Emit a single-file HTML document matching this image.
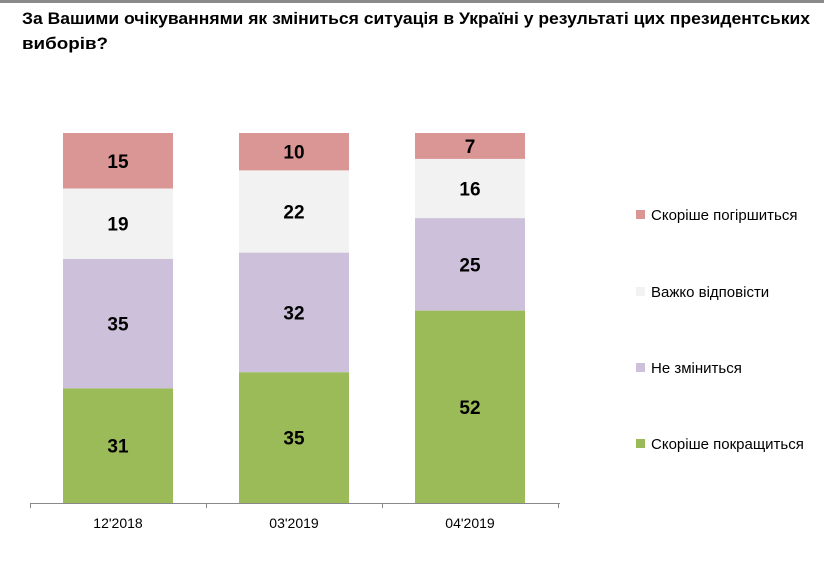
<!DOCTYPE html>
<html><head><meta charset="utf-8"><style>
body{margin:0;background:#fff;}
svg{display:block;font-family:"Liberation Sans",Arial,sans-serif;}
</style></head><body>
<svg id="chart" width="824" height="562" viewBox="0 0 824 562" xmlns="http://www.w3.org/2000/svg">
<rect x="0" y="0" width="824" height="562" fill="#fff"/>
<rect x="0" y="0" width="824" height="3" fill="#8a8a8a"/>
<text x="22" y="24" font-size="17" font-weight="bold" fill="#000" textLength="788" lengthAdjust="spacingAndGlyphs">За Вашими очікуваннями як зміниться ситуація в Україні у результаті цих президентських</text>
<text x="22" y="49" font-size="17" font-weight="bold" fill="#000" textLength="86" lengthAdjust="spacingAndGlyphs">виборів?</text>
<g id="bars"></g>
<line x1="30" y1="503.5" x2="560" y2="503.5" stroke="#888" stroke-width="1"/>
<g id="axis"></g>
<g id="legend"></g>
</svg>
<script>
const categories = ["12'2018","03'2019","04'2019"];
const seriesNames = ["Скоріше покращиться","Не зміниться","Важко відповісти","Скоріше погіршиться"];
const improve = [31,35,52];
const noChange = [35,32,25];
const hardToSay = [19,22,16];
const worsen = [15,10,7];
const colors = ["#9bbb59","#ccc0da","#f2f2f2","#d99694"];
const series = [improve,noChange,hardToSay,worsen];
const NS="http://www.w3.org/2000/svg";
const plotTop=133, plotBottom=503, x0=30, bandW=176, barW=110;
const yScale = v => (plotBottom-plotTop)*v/100;
const xBand = i => x0 + bandW*i + (bandW-barW)/2;
const bars=document.getElementById('bars');
categories.forEach((c,i)=>{
  let total=0; series.forEach(s=>total+=s[i]);
  let y=plotBottom;
  series.forEach((s,k)=>{
    const h=yScale(s[i]/total*100);
    y-=h;
    const r=document.createElementNS(NS,'rect');
    r.setAttribute('x',xBand(i));r.setAttribute('y',y);r.setAttribute('width',barW);r.setAttribute('height',h);r.setAttribute('fill',colors[k]);
    
    
    bars.appendChild(r);
    const t=document.createElementNS(NS,'text');
    t.setAttribute('x',xBand(i)+barW/2);t.setAttribute('y',y+h/2+7);t.setAttribute('text-anchor','middle');
    t.setAttribute('font-size','19');t.setAttribute('font-weight','bold');t.textContent=s[i];
    
    
    bars.appendChild(t);
  });
});
const axis=document.getElementById('axis');
for(let i=0;i<=categories.length;i++){
  const l=document.createElementNS(NS,'line');
  const x=x0+bandW*i+0.5;
  l.setAttribute('x1',x);l.setAttribute('x2',x);l.setAttribute('y1',503);l.setAttribute('y2',508);l.setAttribute('stroke','#888');
  
  
  axis.appendChild(l);
}
categories.forEach((c,i)=>{
  const t=document.createElementNS(NS,'text');
  t.setAttribute('x',x0+bandW*i+bandW/2);t.setAttribute('y',528);t.setAttribute('text-anchor','middle');t.setAttribute('font-size','14');
  t.textContent=c;
  
  
  axis.appendChild(t);
});
const legend=document.getElementById('legend');
const legY=[444,368,292,215];
seriesNames.forEach((n,k)=>{
  const g=document.createElementNS(NS,'g');
  
  
  const r=document.createElementNS(NS,'rect');
  r.setAttribute('x',636);r.setAttribute('y',legY[k]-5);r.setAttribute('width',9);r.setAttribute('height',9);r.setAttribute('fill',colors[k]);
  
  
  const t=document.createElementNS(NS,'text');
  t.setAttribute('x',651);t.setAttribute('y',legY[k]+5);t.setAttribute('font-size','15');t.textContent=n;
  
  
  g.appendChild(r);g.appendChild(t);legend.appendChild(g);
});
</script>
</body></html>
